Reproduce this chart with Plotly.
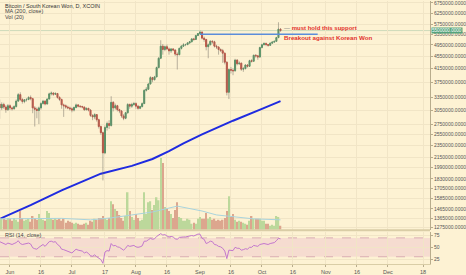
import math
import plotly.graph_objects as go
import pandas as pd

# ---------------- data (prices in thousand KRW) ----------------
first_day = "2017-05-27"
open_k = [3190,3100,3180,3120,3060,3150,3100,3080,3130,3260,3420,3300,3250,3290,3300,3350,3320,3100,3070,3040,
          3100,3200,3260,3190,3310,3440,3460,3430,3450,3350,3300,3170,3150,3120,3100,3080,3050,3110,3170,3140,
          3130,3120,3060,3090,3050,2930,2900,2950,2840,2700,2580,2220,2680,2760,2720,3230,3100,3150,3060,3030,
          2920,2870,2990,3180,3140,3180,3200,3140,3090,3130,3200,3530,3560,3700,3880,3820,3900,4180,4480,4900,
          4780,4880,4800,4730,4800,4760,4620,4600,4820,4900,4950,4960,5020,5060,5170,5150,5300,5380,5440,5200,
          5150,4880,4950,5080,5060,4900,4870,4780,4740,4650,4350,3480,4120,4100,4080,4420,4300,4320,4130,4150,
          4260,4220,4400,4380,4580,4560,4520,4850,4950,5000,4960,4930,5010,5050,5080,5220,5560]
high_k = [3300,3230,3220,3160,3190,3180,3130,3160,3300,3460,3480,3330,3310,3330,3380,3400,3340,3140,3110,3130,
          3230,3290,3280,3330,3470,3500,3480,3480,3460,3380,3320,3200,3180,3150,3130,3110,3130,3200,3190,3160,
          3150,3130,3110,3100,3070,2960,2980,2960,2860,2720,2600,2720,2800,2830,3380,3260,3200,3170,3080,3050,
          2960,3010,3210,3200,3220,3240,3230,3170,3150,3230,3560,3620,3730,3920,3900,3930,4210,4520,5120,4980,
          4920,4960,4850,4830,4830,4790,4680,4850,4940,5010,4990,5050,5090,5200,5210,5330,5400,5510,5460,5260,
          5170,5000,5120,5120,5100,4950,4890,4820,4800,4680,4380,4150,4200,4160,4460,4450,4380,4340,4200,4290,
          4290,4430,4450,4600,4620,4590,4880,4990,5040,5030,4980,5040,5080,5100,5250,5850,5600]
low_k = [2860,3050,3080,2990,3030,3050,3040,3060,3110,3240,3260,3200,3210,3250,3280,3280,2980,2700,2870,2750,
         3060,3180,3160,3180,3300,3400,3390,3410,3320,3260,3080,2900,3080,3070,3040,3000,3020,3090,3110,3100,
         3090,3030,3040,3020,2900,2830,2850,2800,2660,2540,1810,2200,2620,2650,2700,3020,3060,3020,2980,2880,
         2830,2850,2970,3080,3100,3150,3080,3060,3070,3110,3190,3500,3540,3690,3750,3800,3890,4160,4450,4600,
         4720,4760,4600,4660,4720,4560,4120,4580,4780,4870,4900,4930,4980,5040,5100,5130,5280,5330,5150,5060,
         4750,4480,4930,4990,4850,4800,4600,4690,4330,4280,3400,3310,4000,3950,4060,4250,4260,4080,4050,4120,
         4180,4200,4340,4370,4500,4430,4500,4820,4930,4900,4880,4910,4990,5020,5060,5200,5450]
close_k = [3100,3180,3120,3060,3150,3100,3080,3130,3260,3420,3300,3250,3290,3300,3350,3320,3100,3070,3040,3100,
           3200,3260,3190,3310,3440,3460,3430,3450,3350,3300,3170,3150,3120,3100,3080,3050,3110,3170,3140,3130,
           3120,3060,3090,3050,2930,2900,2950,2840,2700,2580,2220,2680,2760,2720,3230,3100,3150,3060,3030,2920,
           2870,2990,3180,3140,3180,3200,3140,3090,3130,3200,3530,3560,3700,3880,3820,3900,4180,4480,4900,4780,
           4880,4800,4730,4800,4760,4620,4600,4820,4900,4950,4960,5020,5060,5170,5150,5300,5380,5440,5200,5150,
           4880,4950,5080,5060,4900,4870,4780,4740,4650,4350,3480,4120,4100,4080,4420,4300,4320,4130,4150,4260,
           4220,4400,4380,4580,4560,4520,4850,4950,5000,4960,4930,5010,5050,5080,5220,5560,5500]
volume_k = [13,11,11,10,12,11,9,12,10,8,19,12,9,10,11,8,14,12,10,16,
            12,10,9,19,17,12,10,12,10,11,9,11,7,9,8,7,6,7,6,5,
            5,6,7,5,9,8,11,10,12,12,14,11,10,12,29,26,21,19,15,12,
            9,14,38,19,13,10,16,12,9,10,38,16,28,29,20,25,33,30,73,68,
            23,21,19,16,12,20,28,13,12,9,9,11,10,6,7,6,11,13,11,11,
            17,11,13,10,11,9,10,9,10,12,19,34,13,16,10,8,9,8,7,6,
            5,9,14,11,11,11,11,9,9,6,6,4,5,4,14,13,4]
rsi = [62,60,58,56,59,57,56,58,60,64,58,56,57,57,59,57,49,47,46,50,
       53,56,52,57,62,63,61,62,56,53,46,45,43,42,40,38,42,46,44,43,
       42,38,40,37,32,31,34,30,26,24,16,40,43,42,58,53,54,51,50,46,
       44,48,54,52,53,54,51,50,51,53,63,63,66,69,67,68,73,77,79,76,
       77,74,72,73,72,68,67,71,72,72,72,73,73,75,74,76,78,78,69,67,
       58,60,63,62,56,55,52,51,48,42,26,44,44,43,50,48,48,44,45,47,
       46,50,50,54,53,52,56,57,58,57,56,58,59,60,64,69,68]

ma200_dates = ["2017-05-27","2017-06-11","2017-06-26","2017-07-10","2017-07-15","2017-07-30",
               "2017-08-09","2017-08-17","2017-08-24","2017-09-02","2017-09-17","2017-10-01","2017-10-10"]
ma200_k = [1361,1507,1681,1848,1903,2016,2122,2249,2384,2546,2819,3077,3261]

volma_dates = ["2017-05-27","2017-06-11","2017-06-26","2017-07-10","2017-07-20","2017-07-30","2017-08-09",
               "2017-08-21","2017-08-28","2017-09-02","2017-09-09","2017-09-17","2017-09-27","2017-10-10"]
volma_k = [11,11,11.5,10,12,15,18,24,21,19,15,13,11,10]

support_dates = ["2017-09-01", "2017-10-28"]
support_k = 5350

y_ticks = [6750000,6250000,5750000,5350000,4950000,4550000,4150000,3750000,3350000,3050000,2750000,
           2550000,2350000,2150000,1990000,1830000,1705000,1585000,1465000,1365000,1275000]
x_tick_dates = ["2017-06-01","2017-06-16","2017-07-01","2017-07-17","2017-08-01","2017-08-16","2017-09-01",
                "2017-09-16","2017-10-01","2017-10-16","2017-11-01","2017-11-16","2017-12-01","2017-12-18"]
x_tick_text = ["Jun","16","Jul","17","Aug","16","Sep","16","Oct","16","Nov","16","Dec","18"]
rsi_ticks = [25, 50, 75]

# ---------------- styling ----------------
BG = "#FDF2D3"
GRID = "#F1E5C6"
AXIS = "#B8AC8C"
UP = "#4E9A66"
DN = "#CC4A3A"
VUP = "#BCD89B"
VDN = "#DCA68E"
FONT = "Liberation Sans"
TXT = "#555555"

K = 1000
dates = pd.date_range(first_day, periods=len(close_k), freq="D")
o = [v * K for v in open_k]
h = [v * K for v in high_k]
l = [v * K for v in low_k]
c = [v * K for v in close_k]
body_hi = [max(a, b) for a, b in zip(o, c)]
body_lo = [min(a, b) for a, b in zip(o, c)]

fig = go.Figure()

# volume
vcol = [VUP if cc >= oo else VDN for oo, cc in zip(o, c)]
fig.add_trace(go.Bar(x=dates, y=volume_k, marker=dict(color=vcol, line=dict(width=0)),
                     width=86400000 * 0.72, xaxis="x", yaxis="y3"))
fig.add_trace(go.Scatter(x=volma_dates, y=volma_k, mode="lines",
                         line=dict(color="#A9D3DC", width=1), xaxis="x", yaxis="y3"))

# price line (current close)
fig.add_shape(type="line", xref="paper", x0=0, x1=1, yref="y", y0=c[-1], y1=c[-1],
              line=dict(color="rgba(120,175,140,0.35)", width=1), layer="below")

# MA 200
fig.add_trace(go.Scatter(x=ma200_dates, y=[v * K for v in ma200_k], mode="lines",
                         line=dict(color="#1F2BE0", width=2), xaxis="x", yaxis="y"))

# wicks
wx, wy = [], []
for d, hh, ll in zip(dates, h, l):
    wx += [d, d, None]
    wy += [ll, hh, None]
fig.add_trace(go.Scatter(x=wx, y=wy, mode="lines", line=dict(color="rgba(125,120,110,0.55)", width=1),
                         xaxis="x", yaxis="y"))

# candle bodies
fig.add_trace(go.Candlestick(x=dates, open=o, high=body_hi, low=body_lo, close=c,
                             increasing=dict(line=dict(color=UP, width=1), fillcolor=UP),
                             decreasing=dict(line=dict(color=DN, width=1), fillcolor=DN),
                             whiskerwidth=0, xaxis="x", yaxis="y"))

# support line
fig.add_trace(go.Scatter(x=support_dates, y=[support_k * K] * 2, mode="lines",
                         line=dict(color="#5B8DDA", width=1.5), xaxis="x", yaxis="y"))

# RSI band
fig.add_shape(type="rect", xref="x2 domain", x0=0, x1=1, yref="y2", y0=30, y1=70,
              fillcolor="#F6DCD0", line=dict(width=0), layer="below")
for lvl in (70, 30):
    fig.add_shape(type="line", xref="x2 domain", x0=0, x1=1, yref="y2", y0=lvl, y1=lvl,
                  line=dict(color="#D9AEB4", width=1, dash="dash"), layer="below")
fig.add_trace(go.Scatter(x=dates, y=rsi, mode="lines", line=dict(color="#C277CC", width=1),
                         xaxis="x2", yaxis="y2"))

H_PLOT = 268.0
main_bottom = 1 - 233 / H_PLOT
rsi_top = 1 - 235 / H_PLOT

# pane separator
fig.add_shape(type="line", xref="paper", x0=0, x1=1, yref="paper", y0=1 - 233.5 / H_PLOT, y1=1 - 233.5 / H_PLOT,
              line=dict(color="#D9CDA6", width=2))

fig.update_layout(
    width=466, height=275,
    margin=dict(l=0, r=35, t=0, b=7),
    paper_bgcolor=BG, plot_bgcolor=BG,
    showlegend=False, hovermode=False,
    font=dict(family=FONT, size=5, color=TXT),
    xaxis=dict(type="date", range=["2017-05-27 04:00", "2017-12-21 09:00"], anchor="y",
               domain=[0, 1], showticklabels=False, tickvals=x_tick_dates, showgrid=True,
               gridcolor=GRID, gridwidth=1, zeroline=False, rangeslider=dict(visible=False),
               showline=False, ticks=""),
    xaxis2=dict(type="date", matches="x", anchor="y2", domain=[0, 1], tickvals=x_tick_dates,
                ticktext=x_tick_text, showgrid=True, gridcolor=GRID, ticks="outside", ticklen=2,
                tickcolor=AXIS, showline=True, linecolor="#D9CDA6", linewidth=1,
                tickfont=dict(family=FONT, size=5.5, color=TXT), rangeslider=dict(visible=False),
                ticklabeloverflow="allow"),
    yaxis=dict(type="log", domain=[main_bottom, 1], side="right", anchor="x",
               range=[6.09919, 6.83562], tickvals=y_ticks,
               ticktext=[f"{v}.0000" for v in y_ticks], showgrid=True, gridcolor=GRID,
               showline=True, linecolor=AXIS, linewidth=1, ticks="outside", ticklen=2, tickcolor=AXIS,
               tickfont=dict(family=FONT, size=5, color=TXT), zeroline=False,
               ticklabeloverflow="allow"),
    yaxis3=dict(overlaying="y", anchor="x", range=[0, 233], visible=False, showgrid=False),
    yaxis2=dict(domain=[0, rsi_top], side="right", anchor="x2", range=[14.6, 83.3],
                tickvals=rsi_ticks, showgrid=True, gridcolor=GRID, showline=True, linecolor=AXIS,
                linewidth=1, ticks="outside", ticklen=2, tickcolor=AXIS,
                tickfont=dict(family=FONT, size=5, color=TXT), zeroline=False,
                ticklabeloverflow="allow"),
)

# current price label on the right scale
fig.add_annotation(xref="paper", x=1.0, xanchor="left", xshift=1, yref="y", y=math.log10(c[-1]),
                   yshift=0.5, text=f"{c[-1]}.0000", showarrow=False, bgcolor="#55A37D",
                   font=dict(family=FONT, size=4.6, color="white"), borderpad=0)

# legend texts
legend_lines = ["Bitcoin / South Korean Won, D, XCOIN", "MA (200, close)", "Vol (20)"]
for i, t in enumerate(legend_lines):
    fig.add_annotation(xref="paper", yref="paper", x=0, xshift=3, xanchor="left",
                       y=1 - (5 + 5.4 * i) / H_PLOT, yanchor="middle", text=t, showarrow=False,
                       font=dict(family=FONT, size=5.5, color="#333333" if i == 0 else "#444444"))
fig.add_annotation(xref="paper", yref="paper", x=0, xshift=3, xanchor="left",
                   y=1 - 238 / H_PLOT, yanchor="middle", text="RSI (14, close)", showarrow=False,
                   font=dict(family=FONT, size=5.5, color="#444444"))

# user notes
fig.add_annotation(xref="x", yref="y", x="2017-10-10 12:00", y=math.log10(5586000), xanchor="left",
                   yanchor="middle", showarrow=False,
                   text="<span style='color:#777777'>—</span> <b>must hold this support</b>",
                   font=dict(family=FONT, size=6, color="#E2312B"))
fig.add_annotation(xref="x", yref="y", x="2017-10-10 12:00", y=math.log10(5233000), xanchor="left",
                   yanchor="middle", showarrow=False, text="<b>Breakout against Korean Won</b>",
                   font=dict(family=FONT, size=6.2, color="#E2312B"))

fig.write_html("out.html")
